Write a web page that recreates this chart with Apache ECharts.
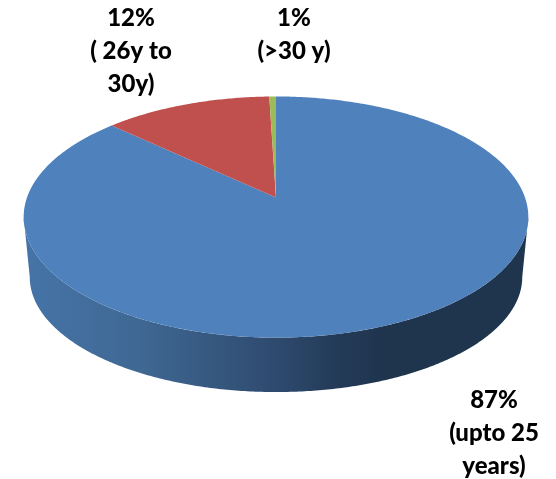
<!DOCTYPE html>
<html>
<head>
<meta charset="utf-8">
<style>
  html, body { margin: 0; padding: 0; background: #fff; }
  #chart { width: 556px; height: 479px; }
</style>
<script src="https://cdn.jsdelivr.net/npm/echarts@6/dist/echarts.min.js"></script>
</head>
<body>
<div id="chart"></div>
<script>
// slice sizes (the printed labels are rounded)
const sliceNames = ['upto 25 years', '26y to 30y', '>30 y'];
const sliceValues = [86.9, 12.6, 0.5];
const sliceLabels = ['87%\n(upto 25\nyears)', '12%\n( 26y to\n30y)', '1%\n(>30 y)'];

const sliceColors = ['#4f81bd', '#c0504d', '#9bbb59'];
const labelAnchors = [[494, 384], [131, 2], [294, 2]];

// circle -> screen, far side of the disc is squeezed by the perspective
const topRim = { x0: 276, y0: 197.5, a: 249, b: 117.4, k: 0.162 };
const bottomRim = { x0: 276, y0: 258.4, a: 243, b: 112, k: 0.162 };

const total = sliceValues.reduce((s, v) => s + v, 0);

const project = (rim, angle) => {
  const u = Math.sin(angle);
  const v = Math.cos(angle);
  const w = 1 + rim.k * v;
  return [rim.x0 + (rim.a * u) / w, rim.y0 - (rim.b * v) / w];
};

const arcPoints = (rim, from, to) => {
  const steps = Math.max(2, Math.ceil(Math.abs(to - from) / 0.01));
  const pts = [];
  for (let i = 0; i <= steps; i++) {
    pts.push(project(rim, from + ((to - from) * i) / steps));
  }
  return pts;
};

const wallGradient = new echarts.graphic.LinearGradient(23, 0, 529, 0, [
  { offset: 0, color: '#4674a8' },
  { offset: 0.23, color: '#3f6893' },
  { offset: 0.5, color: '#2e4a6e' },
  { offset: 0.63, color: '#233a57' },
  { offset: 0.72, color: '#1f344d' },
  { offset: 1, color: '#1f344d' }
], true);

const renderSlice = (params, api) => {
  const idx = params.dataIndex;
  let start = 0;
  for (let i = 0; i < idx; i++) start += sliceValues[i];
  const from = (start / total) * Math.PI * 2;
  const to = ((start + api.value(0)) / total) * Math.PI * 2;

  const children = [];

  // side wall, only the front part of the rim can be seen
  const visFrom = Math.PI / 2 + Math.asin(topRim.k);
  const visTo = Math.PI * 2 - visFrom;
  const wallFrom = Math.max(from, visFrom);
  const wallTo = Math.min(to, visTo);
  if (wallTo > wallFrom) {
    const points = arcPoints(topRim, wallFrom, wallTo).concat(
      arcPoints(bottomRim, wallTo, wallFrom)
    );
    children.push({
      type: 'polygon',
      shape: { points },
      style: { fill: wallGradient }
    });
  }

  children.push({
    type: 'polygon',
    shape: { points: [[topRim.x0, topRim.y0]].concat(arcPoints(topRim, from, to)) },
    style: { fill: sliceColors[idx] }
  });

  children.push({
    type: 'text',
    x: labelAnchors[idx][0],
    y: labelAnchors[idx][1],
    style: {
      text: sliceLabels[idx],
      fill: '#000',
      font: '900 24px Lato',
      lineHeight: 33,
      align: 'center',
      verticalAlign: 'top'
    }
  });

  return { type: 'group', children };
};

const chart = echarts.init(document.getElementById('chart'), null, { renderer: 'canvas' });

chart.setOption({
  animation: false,
  series: [
    {
      type: 'custom',
      coordinateSystem: 'none',
      renderItem: renderSlice,
      data: sliceValues.map((v, i) => ({ name: sliceNames[i], value: [v] }))
    }
  ]
});
</script>
</body>
</html>
